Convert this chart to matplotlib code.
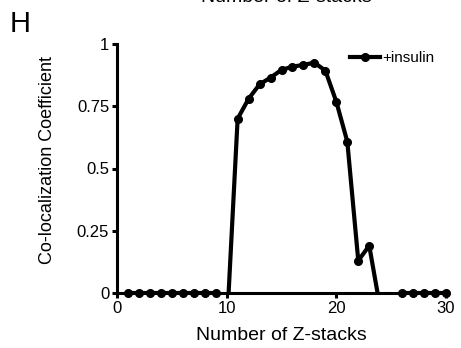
import numpy as np
import matplotlib
matplotlib.use('Agg')
import matplotlib.pyplot as plt
from matplotlib.lines import Line2D

plt.rcParams['font.family'] = ['Liberation Sans', 'DejaVu Sans']

# z-stack index and co-localization coefficient (+insulin)
zstack = [1, 2, 3, 4, 5, 6, 7, 8, 9, 10, 11, 12, 13, 14, 15,
          16, 17, 18, 19, 20, 21, 22, 23, 24, 25, 26, 27, 28, 29, 30]
coef = [0, 0, 0, 0, 0, 0, 0, 0, 0, -0.15, 0.70, 0.78, 0.838, 0.865, 0.896,
        0.909, 0.916, 0.925, 0.893, 0.768, 0.608, 0.13, 0.19, -0.06, -0.05,
        0, 0, 0, 0, 0]
yticks = [0, 0.25, 0.5, 0.75, 1]
yticklabels = ['0', '0.25', '0.5', '0.75', '1']
xticks = [0, 10, 20, 30]

fig = plt.figure(figsize=(4.61, 3.48), dpi=100)
ax = fig.add_axes([117 / 461, 1 - 293 / 348, 329 / 461, 249 / 348])

x = np.array(zstack, dtype=float)
y = np.array(coef, dtype=float)
ax.plot(x, y, color='black', lw=3.0, solid_joinstyle='round', clip_on=True, zorder=3)
ym = np.ma.masked_less(y, 0)
ax.plot(x, ym, 'o', color='black', ms=5.5, clip_on=False, zorder=4)

ax.set_xlim(0, 30)
ax.set_ylim(0, 1)
ax.set_xticks(xticks)
ax.set_yticks(yticks)
ax.set_yticklabels(yticklabels)

for s in ['top', 'right']:
    ax.spines[s].set_visible(False)
for s in ['left', 'bottom']:
    ax.spines[s].set_linewidth(2.2)
ax.tick_params(direction='out', length=3.6, width=2.2, labelsize=12, pad=2)

ax.set_xlabel('Number of Z-stacks', fontsize=14, labelpad=8)
ax.set_ylabel('Co-localization Coefficient', fontsize=13)
ax.yaxis.set_label_coords(-0.185, 0.535)

h = Line2D([], [], color='black', lw=3.0, marker='o', ms=5.5)
ax.legend([h], ['+insulin'], loc='upper right', frameon=False, fontsize=11,
          handlelength=2.0, handletextpad=0.1, borderaxespad=0,
          bbox_to_anchor=(440 / 461, 1 - 45 / 348), bbox_transform=fig.transFigure)

fig.text(10 / 461, 1 - 32 / 348, 'H', fontsize=21, ha='left', va='baseline')
fig.text(286 / 461, 1 - 1.5 / 348, 'Number of Z-stacks', fontsize=14, ha='center', va='baseline')

fig.savefig('out.png', dpi=100)
